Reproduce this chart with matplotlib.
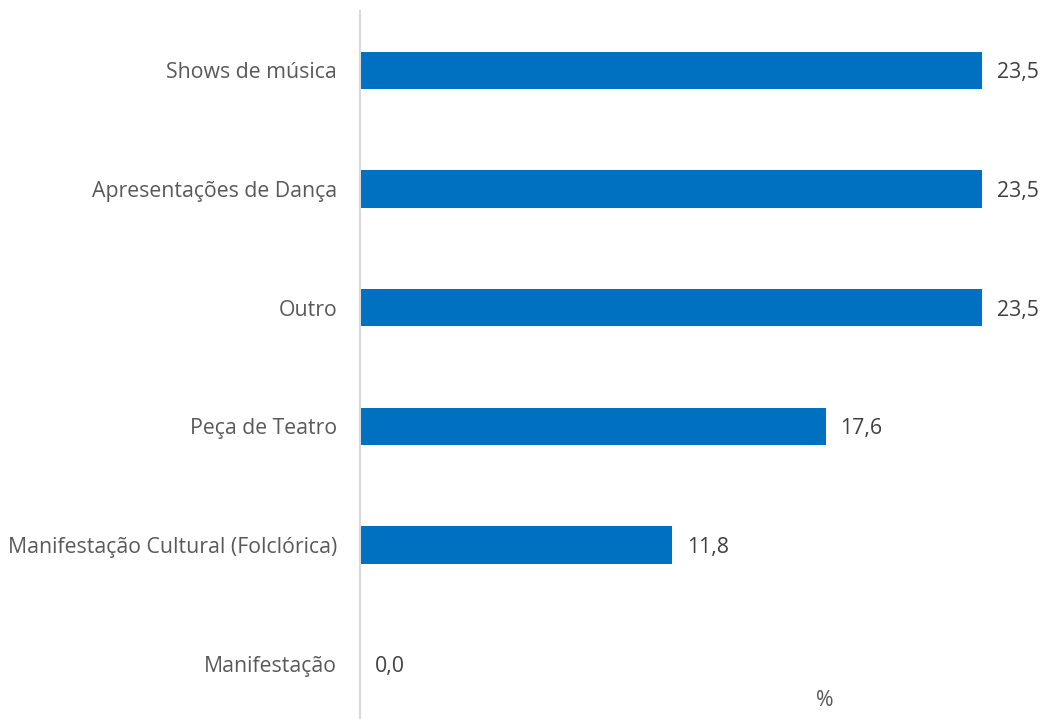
import matplotlib.pyplot as plt

plt.rcParams['font.family'] = ['Open Sans', 'DejaVu Sans']

# Данные
categories = ['Shows de música', 'Apresentações de Dança', 'Outro',
              'Peça de Teatro', 'Manifestação Cultural (Folclórica)', 'Manifestação']
values = [23.5, 23.5, 23.5, 17.6, 11.8, 0.0]

W, H = 1044, 719
fig = plt.figure(figsize=(W / 100, H / 100), dpi=100)
ax = fig.add_axes([360 / W, -4 / H, (1022 - 360) / W, (723 - 11) / H])

y = list(range(len(categories)))
ax.barh(y, values, height=0.315, color='#0070C0')
ax.set_ylim(len(categories) - 0.5, -0.5)
ax.set_xlim(0, 25)

for yi, v in zip(y, values):
    ax.text(v + 0.55, yi + 0.02, f'{v:.1f}'.replace('.', ','), va='center', ha='left',
            fontsize=15.3, color='#404040')

ax.set_yticks(y)
ax.set_yticklabels(categories, fontsize=15.3, color='#595959')
ax.tick_params(axis='y', length=0, pad=16.5)
ax.set_xticks([])

for s in ['top', 'right', 'bottom']:
    ax.spines[s].set_visible(False)
ax.spines['left'].set_color('#D9D9D9')
ax.spines['left'].set_linewidth(1.5)

fig.text(825 / W, 1 - 700 / H, '%', ha='center', va='center', fontsize=15.3, color='#595959')

fig.savefig('out.png', dpi=100)
